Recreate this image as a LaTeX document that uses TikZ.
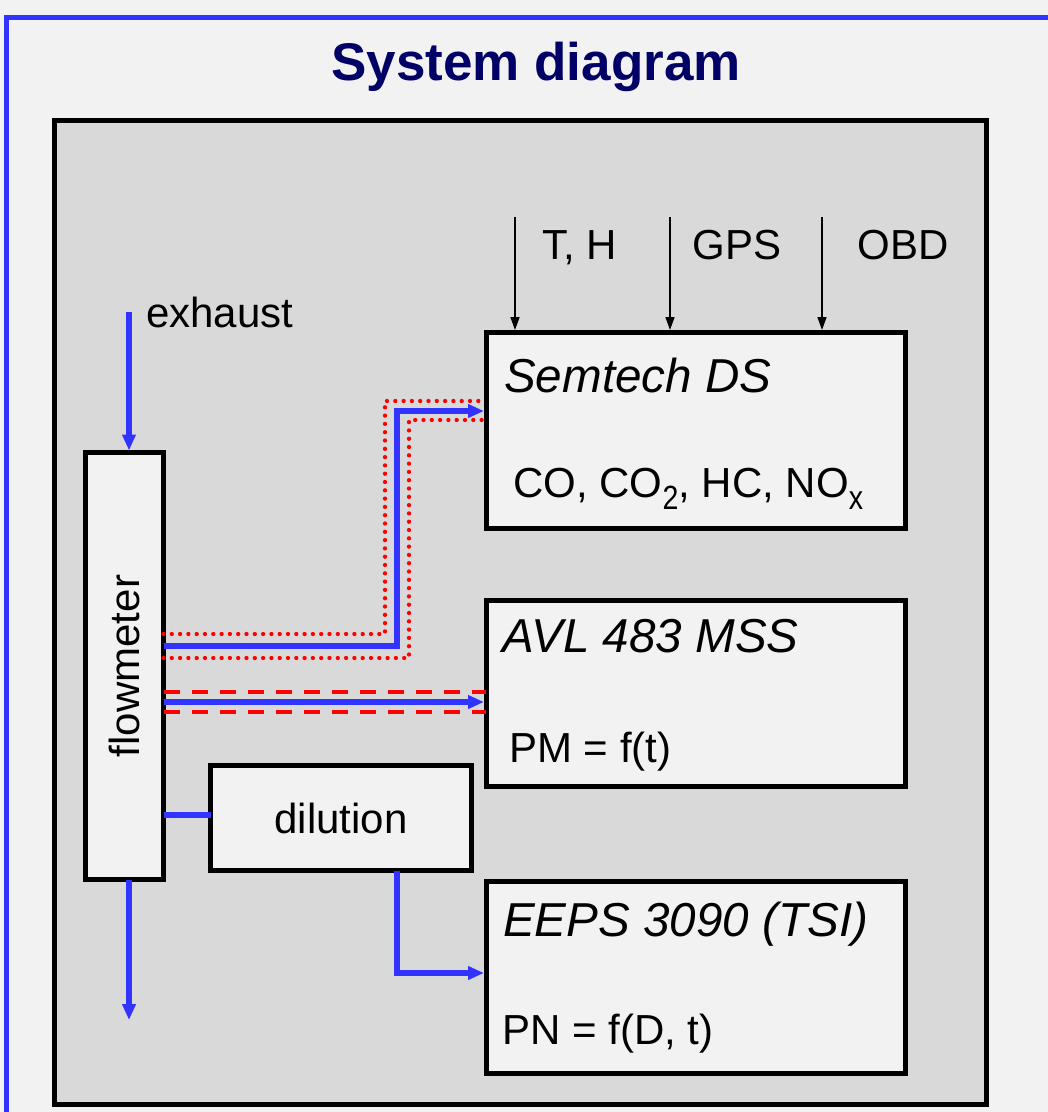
\documentclass[tikz,border=0pt]{standalone}
\usepackage{fontspec}
\usepackage{graphicx}
\setmainfont{Liberation Sans}
\usetikzlibrary{arrows.meta}
\definecolor{pagebg}{HTML}{F2F2F2}
\definecolor{panel}{HTML}{D9D9D9}
\definecolor{flow}{HTML}{3333FF}
\definecolor{titlec}{HTML}{000066}
\definecolor{sampling}{HTML}{FF0000}
\newcommand{\lowsub}[1]{\raisebox{-12pt}{\scalebox{0.68}[0.8]{#1}}}
\begin{document}
\begin{tikzpicture}[x=1pt,y=-1pt,
  box/.style={draw=black, line width=5pt, fill=pagebg, inner sep=0pt, outer sep=0pt, anchor=north west},
  txt/.style={inner sep=0pt, font=\fontsize{42}{50}\selectfont},
  head/.style={inner sep=0pt, anchor=base west, font=\fontsize{47.6}{56}\selectfont\itshape},
  flowline/.style={draw=flow, line width=6pt},
  flowarrow/.style={flowline, -{Triangle[length=16pt,width=13pt]}},
  sigarrow/.style={draw=black, line width=1.5pt, -{Triangle[length=13pt,width=9pt]}},
  dotline/.style={draw=sampling, line width=4.3pt, line cap=round, dash pattern=on 0pt off 8.3pt},
  dashline/.style={draw=sampling, line width=3.5pt, dash pattern=on 16pt off 12pt}
]
\useasboundingbox (0,0) rectangle (1048,1112);
\fill[pagebg] (0,0) rectangle (1048,1112);
\draw[flow, line width=5pt] (6,1120) -- (6,17.5) -- (1055,17.5);
\node[inner sep=0pt, anchor=base, text=titlec, font=\fontsize{53}{60}\selectfont\bfseries] (title) at (536,80) {System diagram};
\draw[line width=5pt, fill=panel] (54.5,120.5) rectangle (986,1104);

% boxes
\node[box, minimum width=419pt, minimum height=196pt] (sem) at (486,332) {};
\node[box, minimum width=419pt, minimum height=186pt] (avl) at (486,600) {};
\node[box, minimum width=419pt, minimum height=192pt] (eeps) at (486,881) {};
\node[box, minimum width=78pt, minimum height=427pt] (fm) at (85.5,452.5) {};
\node[box, minimum width=261pt, minimum height=105pt] (dil) at (210.5,765.5) {};

% box texts
\node[head] (semt) at (504,392) {Semtech DS};
\node[txt, anchor=base west] (semg) at (513,497) {CO, CO\lowsub{2}, HC, NO\lowsub{x}};
\node[head] (avlt) at (502,652) {AVL 483 MSS};
\node[txt, anchor=base west] (avlg) at (509,762) {PM = f(t)};
\node[head] (eepst) at (503,936) {EEPS 3090 (TSI)};
\node[txt, anchor=base west] (eepsg) at (502,1044) {PN = f(D, t)};
\node[txt, rotate=90] (fmt) at (fm.center) {flowmeter};
\node[txt, anchor=base] (dilt) at (341,833) {dilution};
\node[txt, anchor=base west] (exh) at (146,327) {exhaust};

% signal inputs
\node[txt, anchor=base] (th) at (580,259) {T, H};
\node[txt, anchor=base] (gps) at (737,259) {GPS};
\node[txt, anchor=base] (obd) at (903,259) {OBD};
\coordinate (thin) at (515,217);
\coordinate (gpsin) at (670,217);
\coordinate (obdin) at (822,217);
\draw[sigarrow] (thin) -- ([yshift=2pt]thin |- sem.north);
\draw[sigarrow] (gpsin) -- ([yshift=2pt]gpsin |- sem.north);
\draw[sigarrow] (obdin) -- ([yshift=2pt]obdin |- sem.north);

% sampling lines (red)
\draw[dotline] (fm.east |- 0,634) -- (385,634) -- (385,401) -- (sem.west |- 0,401);
\draw[dotline] (fm.east |- 0,658) -- (409,658) -- (409,420) -- (sem.west |- 0,420);
\draw[dashline] (fm.east |- 0,692) -- (avl.west |- 0,692);
\draw[dashline] (fm.east |- 0,712) -- (avl.west |- 0,712);

% flow lines (blue)
\coordinate (exin) at (129,312);
\coordinate (exout) at (129,1020);
\coordinate (dilout) at (397,973);
\draw[flowarrow] (exin) -- ([yshift=2pt]exin |- fm.north);
\draw[flowarrow] (exin |- fm.south) -- (exout);
\draw[flowarrow] (fm.east |- 0,646) -- (397,646) -- (397,411) -- ([xshift=-2pt]sem.west |- 0,411);
\draw[flowarrow] (fm.east |- 0,702) -- ([xshift=-2pt]avl.west |- 0,702);
\draw[flowline] (fm.east |- 0,815) -- (dil.west |- 0,815);
\draw[flowarrow] (dilout |- dil.south) -- (dilout) -- ([xshift=-2pt]eeps.west |- dilout);
\end{tikzpicture}
\end{document}
